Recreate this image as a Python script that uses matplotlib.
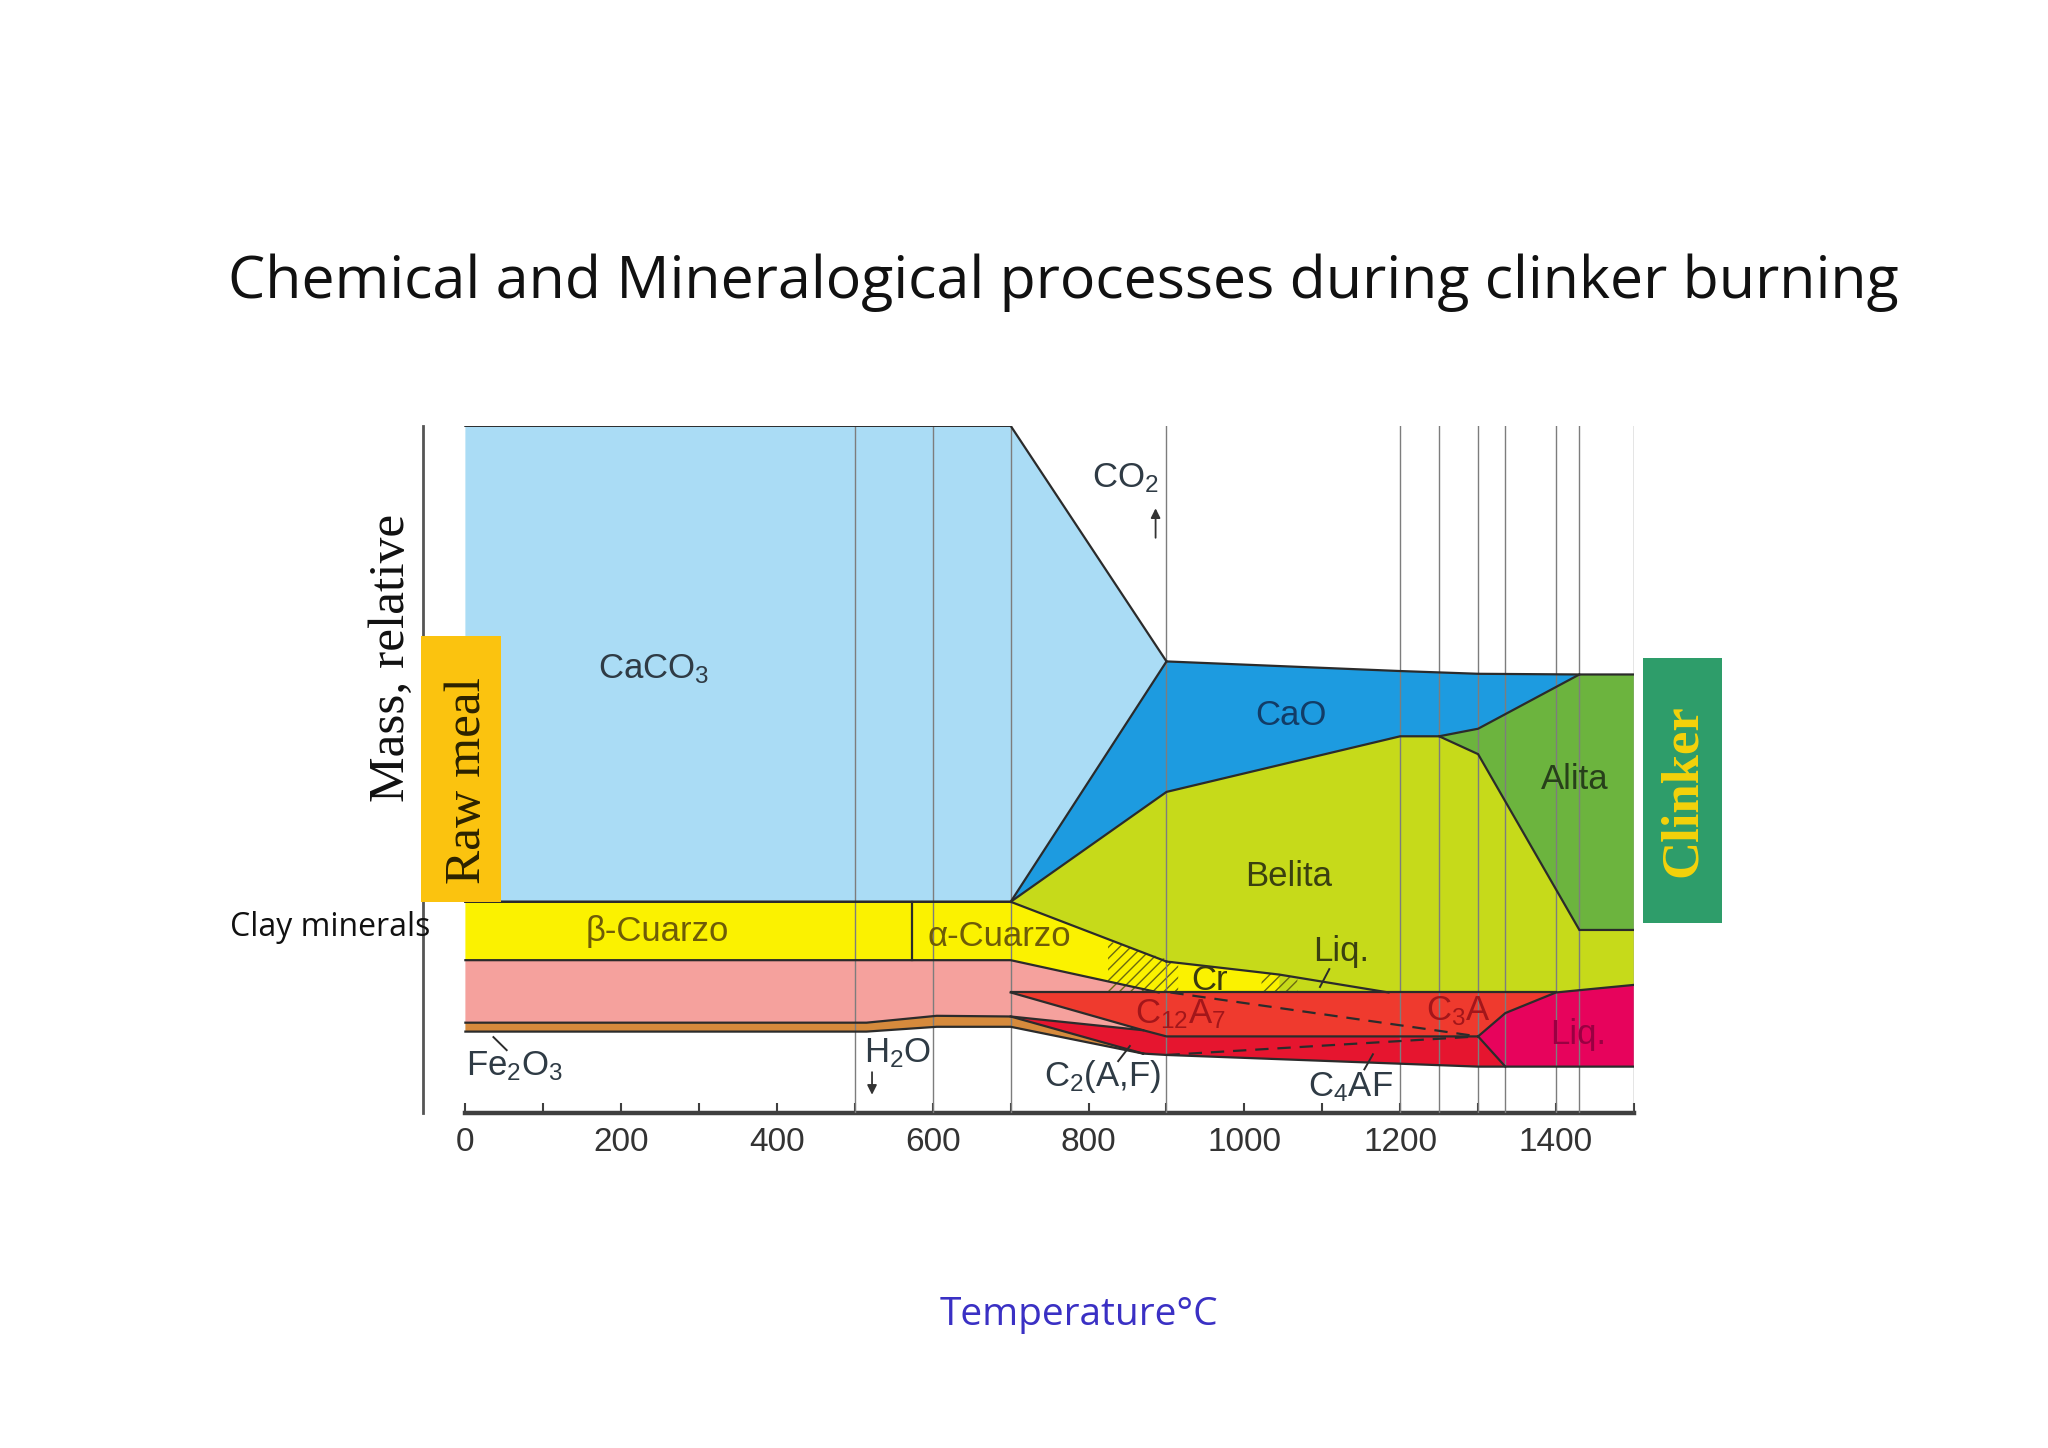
import numpy as np
import matplotlib
matplotlib.use("Agg")
import matplotlib.pyplot as plt
from matplotlib.patches import Rectangle

plt.rcParams['font.family'] = ['Liberation Sans', 'DejaVu Sans']
plt.rcParams['mathtext.fontset'] = 'custom'
plt.rcParams['mathtext.rm'] = 'Liberation Sans'
plt.rcParams['mathtext.it'] = 'Liberation Sans:italic'
plt.rcParams['mathtext.bf'] = 'Liberation Sans:bold'
plt.rcParams['mathtext.default'] = 'rm'

# ---------------- data (temperature in degC, relative mass 0-100) ----------------
T_top = np.array([0, 700, 900]);                 M_top = np.array([100, 100, 65.7])
T_caco3_bot = np.array([0, 700, 900]);           M_caco3_bot = np.array([30.7, 30.7, 65.7])
T_cao_top = np.array([900, 1200, 1300, 1430, 1500]); M_cao_top = np.array([65.7, 64.3, 63.9, 63.8, 63.8])
T_cao_bot = np.array([700, 900, 1200, 1250, 1300, 1430]); M_cao_bot = np.array([30.7, 46.7, 54.8, 54.8, 55.9, 63.8])
T_alita_bot = np.array([1250, 1300, 1430, 1500]); M_alita_bot = np.array([54.8, 52.2, 26.6, 26.6])
T_qz_top = np.array([0, 700, 900]);              M_qz_top = np.array([30.7, 30.7, 22.0])
T_liq_line = np.array([900, 1000, 1045, 1185]);  M_liq_line = np.array([22.0, 20.7, 20.1, 17.5])
T_qz_bot = np.array([0, 700, 890, 1045]);        M_qz_bot = np.array([22.2, 22.2, 17.5, 17.5])
T_red_top = np.array([700, 1185, 1400]);         M_red_top = np.array([17.5, 17.5, 17.5])
T_c12_bot = np.array([700, 870, 900, 1300]);     M_c12_bot = np.array([17.5, 12.0, 11.1, 11.1])
T_c2_top = np.array([700, 870]);                 M_c2_top = np.array([14.0, 12.0])
T_fe_top = np.array([0, 515, 605, 700, 870]);    M_fe_top = np.array([13.1, 13.1, 14.1, 14.0, 8.6])
T_fe_bot = np.array([0, 515, 605, 700, 870]);    M_fe_bot = np.array([11.8, 11.8, 12.5, 12.5, 8.6])
T_red_bot = np.array([870, 900, 1300, 1335, 1500]); M_red_bot = np.array([8.6, 8.4, 6.7, 6.7, 6.7])
T_liq_top = np.array([1300, 1335, 1400, 1500]);  M_liq_top = np.array([11.1, 14.5, 17.5, 18.6])
T_liq_low = np.array([1300, 1335]);              M_liq_low = np.array([11.1, 6.7])
T_dash_up = np.array([905, 1300]);               M_dash_up = np.array([17.5, 11.1])
T_dash_lo = np.array([900, 1300]);               M_dash_lo = np.array([8.4, 11.1])
T_quartz_inv = 573
T_hatch1 = np.array([825, 915]); T_hatch2 = np.array([1022, 1068])
T_vlines = [500, 600, 700, 900, 1200, 1250, 1300, 1335, 1400, 1430, 1500]
x_major = [0, 200, 400, 600, 800, 1000, 1200, 1400]
x_minor = [100, 300, 500, 700, 900, 1100, 1300, 1500]

C_caco3 = '#aadcf5'; C_cao = '#1d9be0'; C_belita = '#c6da1a'; C_alita = '#6cb43e'
C_qz = '#fbf200'; C_clay = '#f5a19d'; C_fe = '#d68a3c'; C_red1 = '#ef3a2e'
C_red2 = '#e6152f'; C_liq = '#e7035c'; EDGE = '#2b2b2b'

# ---------------- figure ----------------
fig = plt.figure(figsize=(20.48, 14.48), dpi=100)
ax = fig.add_axes([0.2067, 0.2316, 0.5911, 0.4743])
ax.set_xlim(-54, 1500)
ax.set_ylim(0, 100)


def band(tu, mu, tl, ml, color, z=2):
    xs = np.concatenate([tu, tl[::-1]])
    ys = np.concatenate([mu, ml[::-1]])
    ax.fill(xs, ys, color=color, lw=0, zorder=z)


# CaCO3
band(T_top, M_top, T_caco3_bot, M_caco3_bot, C_caco3)
# CaO
band(np.r_[T_caco3_bot[1:], T_cao_top[1:4]], np.r_[M_caco3_bot[1:], M_cao_top[1:4]],
     T_cao_bot, M_cao_bot, C_cao)
# Alita
band(np.r_[T_cao_bot[3:], T_cao_top[-1]], np.r_[M_cao_bot[3:], M_cao_top[-1]],
     T_alita_bot, M_alita_bot, C_alita)
# Belita (lower parts are covered by the quartz / clay bands drawn afterwards)
band(np.r_[T_cao_bot[:4], T_alita_bot[1:]], np.r_[M_cao_bot[:4], M_alita_bot[1:]],
     np.r_[T_qz_bot[1:], T_red_top[2:], T_liq_top[3:]],
     np.r_[M_qz_bot[1:], M_red_top[2:], M_liq_top[3:]], C_belita)
# Quartz / Cr
band(np.r_[T_qz_top, T_liq_line[1:3]], np.r_[M_qz_top, M_liq_line[1:3]],
     T_qz_bot, M_qz_bot, C_qz)
# Clay minerals
band(T_qz_bot[:3], M_qz_bot[:3], np.r_[T_fe_top[:4], T_c2_top[1:]],
     np.r_[M_fe_top[:4], M_c2_top[1:]], C_clay)
# C12A7 / C3A
band(T_red_top, M_red_top, np.r_[T_c12_bot, T_liq_top[1:3]],
     np.r_[M_c12_bot, M_liq_top[1:3]], C_red1, z=2.1)
# C2(A,F) / C4AF
band(np.r_[T_c2_top, T_c12_bot[2:]], np.r_[M_c2_top, M_c12_bot[2:]],
     np.r_[T_fe_top[3:], T_red_bot[1:4]], np.r_[M_fe_top[3:], M_red_bot[1:4]], C_red2, z=2.1)
# Fe2O3
band(T_fe_top, M_fe_top, T_fe_bot, M_fe_bot, C_fe, z=2.2)
# Liquid
band(T_liq_top, M_liq_top, np.r_[T_liq_low, T_red_bot[-1]], np.r_[M_liq_low, M_red_bot[-1]], C_liq, z=2.2)

# hatching (crystallisation)
ax.fill_between(T_hatch1, [17.5, 17.5], [25.0, 21.8], facecolor='none', edgecolor='#6b6a10',
                hatch='///', lw=0, zorder=2.5)
ax.fill_between(T_hatch2, [17.5, 17.5], [20.4, 19.7], facecolor='none', edgecolor='#6b6a10',
                hatch='///', lw=0, zorder=2.5)

# vertical guide lines
for t in T_vlines:
    ax.plot([t, t], [0, 100], color='#7d7d7d', lw=1.0, zorder=3)

# boundary lines
lk = dict(color=EDGE, lw=1.6, zorder=4, solid_joinstyle='miter')
ax.plot(T_top, M_top, **lk)
ax.plot(T_caco3_bot, M_caco3_bot, **lk)
ax.plot(T_cao_top, M_cao_top, **lk)
ax.plot(T_cao_bot, M_cao_bot, **lk)
ax.plot(T_alita_bot, M_alita_bot, **lk)
ax.plot(T_qz_top, M_qz_top, **lk)
ax.plot(T_liq_line, M_liq_line, **lk)
ax.plot(T_qz_bot[:3], M_qz_bot[:3], **lk)
ax.plot(T_red_top, M_red_top, **lk)
ax.plot(T_liq_top, M_liq_top, **lk)
ax.plot(T_liq_low, M_liq_low, **lk)
ax.plot(T_c12_bot, M_c12_bot, **lk)
ax.plot(T_c2_top, M_c2_top, **lk)
ax.plot(T_fe_top, M_fe_top, **lk)
ax.plot(T_fe_bot, M_fe_bot, **lk)
ax.plot(T_red_bot, M_red_bot, **lk)
ax.plot([T_quartz_inv, T_quartz_inv], [M_qz_bot[0], M_qz_top[0]], **lk)
ax.plot(T_dash_up, M_dash_up, color=EDGE, lw=1.6, ls=(0, (6, 4)), zorder=4)
ax.plot(T_dash_lo, M_dash_lo, color=EDGE, lw=1.6, ls=(0, (6, 4)), zorder=4)

# axes styling
for s in ['top', 'right']:
    ax.spines[s].set_visible(False)
ax.spines['bottom'].set_bounds(0, 1500)
ax.spines['bottom'].set_linewidth(3.2)
ax.spines['bottom'].set_color('#3f3f3f')
ax.spines['left'].set_linewidth(2.0)
ax.spines['left'].set_color('#555555')
ax.set_xticks(x_major)
ax.set_xticks(x_minor, minor=True)
ax.set_xticklabels([str(v) for v in x_major])
ax.tick_params(axis='x', which='both', direction='in', length=7, width=1.5, color='#3f3f3f',
               labelsize=24, labelcolor='#333333', pad=10)
ax.set_yticks([])

# in-chart labels
tk = dict(fontsize=25, color='#2f3b45', ha='center', va='center', zorder=6)
ax.text(242, 64.6, 'CaCO$_3$', **tk)
ax.text(847, 92.4, 'CO$_2$', **tk)
ax.annotate('', xy=(886, 88.4), xytext=(886, 83.3),
            arrowprops=dict(arrowstyle='-|>', color='#333333', lw=1.3, mutation_scale=14), zorder=6)
ax.text(1060, 57.8, 'CaO', fontsize=25, color='#123c66', ha='center', va='center', zorder=6)
ax.text(1057, 34.4, 'Belita', fontsize=25, color='#3a4010', ha='center', va='center', zorder=6)
ax.text(1424, 48.5, 'Alita', fontsize=25, color='#27401a', ha='center', va='center', zorder=6)
ax.text(247, 26.4, 'β-Cuarzo', fontsize=25, color='#6e5c08', ha='center', va='center', zorder=6)
ax.text(685, 25.7, 'α-Cuarzo', fontsize=25, color='#6e5c08', ha='center', va='center', zorder=6)
ax.text(1124, 23.5, 'Liq.', fontsize=25, color='#3a4010', ha='center', va='center', zorder=6)
ax.plot([1109, 1097], [20.9, 18.3], color=EDGE, lw=1.4, zorder=6)
ax.text(955, 19.3, 'Cr', fontsize=25, color='#3a3a10', ha='center', va='center', zorder=6)
ax.text(918, 14.3, 'C$_{12}$A$_7$', fontsize=25, color='#a3161a', ha='center', va='center', zorder=6)
ax.text(1275, 14.8, 'C$_3$A', fontsize=25, color='#a3161a', ha='center', va='center', zorder=6)
ax.text(1429, 11.4, 'Liq.', fontsize=25, color='#9a0042', ha='center', va='center', zorder=6)
ax.text(818, 5.3, 'C$_2$(A,F)', **tk)
ax.plot([838, 853], [7.5, 9.7], color=EDGE, lw=1.4, zorder=6)
ax.text(1136, 3.7, 'C$_4$AF', **tk)
ax.plot([1154, 1165], [6.3, 8.5], color=EDGE, lw=1.4, zorder=6)
ax.text(63, 6.8, 'Fe$_2$O$_3$', **tk)
ax.plot([36, 53], [11.0, 9.1], color=EDGE, lw=1.4, zorder=6)
ax.text(555, 8.7, 'H$_2$O', **tk)
ax.annotate('', xy=(522, 2.2), xytext=(522, 6.3),
            arrowprops=dict(arrowstyle='-|>', color='#333333', lw=1.3, mutation_scale=14), zorder=6)

# Raw meal / Clinker boxes
ax.add_patch(Rectangle((-57, 30.6), 102.6, 38.8, facecolor='#fbc30f', edgecolor='none',
                       zorder=5, clip_on=False))
ax.text(2.5, 48.3, 'Raw meal', rotation=90, fontsize=37, family='Liberation Serif',
        color='#2b2200', ha='center', va='center', zorder=6, clip_on=False)
ax.add_patch(Rectangle((1512, 27.6), 101.5, 38.6, facecolor='#2e9d6a', edgecolor='none',
                       zorder=5, clip_on=False))
ax.text(1563, 46.9, 'Clinker', rotation=90, fontsize=38, family='Liberation Serif',
        fontweight='bold', color='#f5d20a', ha='center', va='center', zorder=6, clip_on=False)

# outer texts
fig.text(392 / 2048, 1 - 658 / 1448, 'Mass, relative', rotation=90, fontsize=37,
         family='Liberation Serif', color='#111111', ha='center', va='center')
fig.text(330 / 2048, 1 - 928 / 1448, 'Clay minerals', fontsize=23, family='Open Sans',
         color='#111111', ha='center', va='center')
fig.text(1063 / 2048, 1 - 283 / 1448, 'Chemical and Mineralogical processes during clinker burning',
         fontsize=42.6, family='Open Sans', color='#111111', ha='center', va='center')
fig.text(1079 / 2048, 1 - 1315 / 1448, 'Temperature°C', fontsize=28, family='Open Sans',
         color='#3a30c4', ha='center', va='center')

fig.savefig('out.png', dpi=100, facecolor='white')
